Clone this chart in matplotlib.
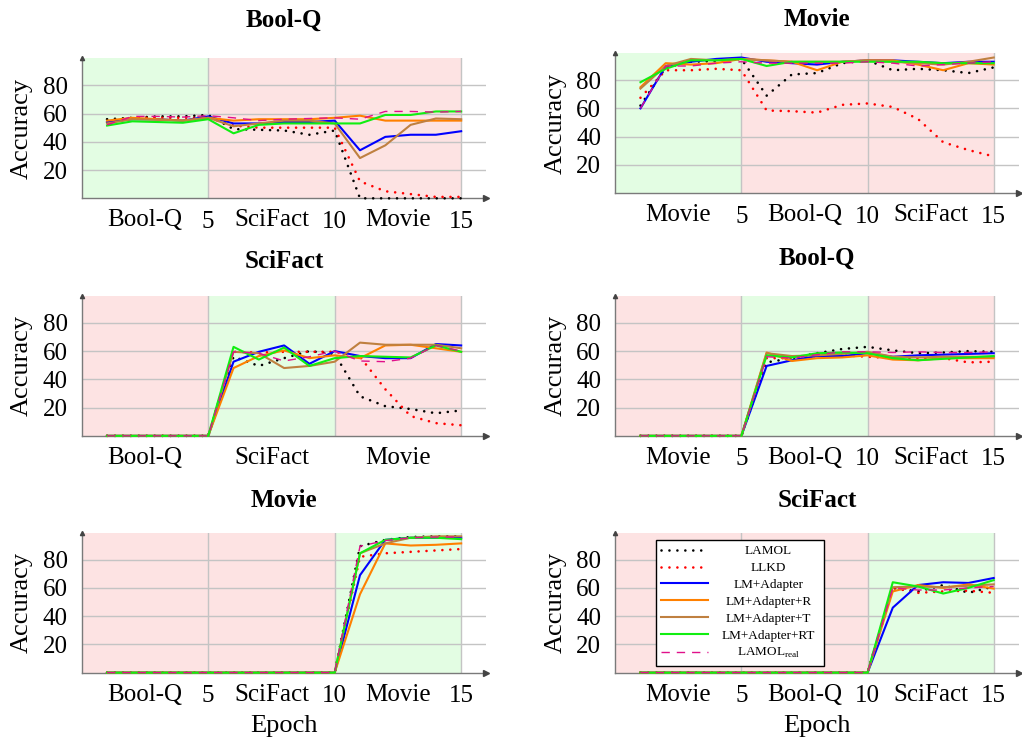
import numpy as np
import matplotlib
matplotlib.use("Agg")
import matplotlib.pyplot as plt
from matplotlib.offsetbox import VPacker

plt.rcParams['font.family'] = ['Liberation Serif', 'DejaVu Serif']
plt.rcParams['mathtext.fontset'] = 'custom'
plt.rcParams['mathtext.rm'] = 'Liberation Serif'

epochs = list(range(1, 16))
methods = ["LAMOL", "LLKD", "LM+Adapter", "LM+Adapter+R", "LM+Adapter+T",
           "LM+Adapter+RT", r"LAMOL$_{\mathrm{real}}$"]

# panel 1: Bool-Q (order Bool-Q, SciFact, Movie)
p1_lamol = [56, 57, 58, 58, 59, 49, 48.5, 48, 45, 48, 0, 0, 0, 0, 0]
p1_llkd = [54, 57, 57, 57, 57, 51.5, 50, 50, 50, 50, 12, 5, 3, 1, 1]
p1_adapter = [54, 56, 56, 55, 58, 53, 53, 54, 54, 55, 34, 43.5, 45, 45, 47.5]
p1_r = [55, 57, 56, 55, 57, 55, 56, 56, 56, 57, 58.5, 55, 55, 55, 55]
p1_t = [53, 56, 55.5, 55, 57, 51, 53, 55, 55, 53, 28.5, 37.5, 52, 56.5, 56]
p1_rt = [51.5, 54.5, 54, 53.5, 56, 46, 52, 53, 53, 53, 53, 59, 59, 61.5, 61.5]
p1_real = [52, 58, 58, 57.5, 58.5, 57, 55, 56, 56.5, 57, 56, 61.5, 61.5, 61, 61.5]

# panel 2: Movie (order Movie, Bool-Q, SciFact)
p2_lamol = [62, 89, 93, 93.5, 95, 69, 84, 85, 92, 94, 87, 88, 87, 85, 89]
p2_llkd = [67.5, 87, 87, 88, 87, 58.5, 58, 57, 62.5, 63.5, 61, 52.5, 36, 30.5, 26]
p2_adapter = [60, 90, 93, 95, 96, 93, 92, 91, 93, 94, 94, 93, 92, 93, 93]
p2_r = [75, 92, 91, 92, 95, 94, 93, 87, 93, 94, 94, 91, 87, 92, 91]
p2_t = [74, 90, 95, 94, 95, 94, 93, 93, 93, 94, 93, 92, 91, 93, 96]
p2_rt = [78.5, 88, 94, 94, 95, 90, 93, 93, 93, 93, 93, 93, 92, 92, 92]
p2_real = [60, 90, 90, 92, 93, 92, 92, 92, 92, 93, 92, 90, 91, 92, 93]

# panel 3: SciFact (order Bool-Q, SciFact, Movie)
p3_lamol = [0, 0, 0, 0, 0, 56, 49.5, 55, 60, 58, 28, 21, 19, 16, 18]
p3_llkd = [0, 0, 0, 0, 0, 59.5, 59, 59.5, 59.5, 59.5, 56, 33, 14, 9, 7.5]
p3_adapter = [0, 0, 0, 0, 0, 52.5, 59.5, 64, 51, 60, 56.5, 55, 55, 65, 64]
p3_r = [0, 0, 0, 0, 0, 48, 56.5, 60.5, 55, 57, 55, 64, 64.5, 62, 59.5]
p3_t = [0, 0, 0, 0, 0, 59.5, 58.5, 48, 49.5, 52.5, 66, 64.5, 64.5, 64.5, 62]
p3_rt = [0, 0, 0, 0, 0, 63, 54, 62.5, 49.5, 55, 56.5, 56, 55.5, 64, 59.5]
p3_real = [0, 0, 0, 0, 0, 59.5, 58.5, 53, 56, 60, 53, 52.5, 55, 64, 60]

# panel 4: Bool-Q (order Movie, Bool-Q, SciFact)
p4_lamol = [0, 0, 0, 0, 0, 52, 55, 58.5, 61.5, 63, 60.5, 58.5, 59, 60, 59.5]
p4_llkd = [0, 0, 0, 0, 0, 55, 55, 56.5, 57, 56, 55, 54.5, 55, 52, 52.5]
p4_adapter = [0, 0, 0, 0, 0, 49.5, 53.5, 56.5, 56.5, 58.5, 56, 57, 57.5, 58, 58.5]
p4_r = [0, 0, 0, 0, 0, 59, 53, 55, 55.5, 57, 54, 53.5, 55, 55, 55]
p4_t = [0, 0, 0, 0, 0, 58.5, 56.5, 57, 58, 59.5, 56, 55.5, 56, 56, 56]
p4_rt = [0, 0, 0, 0, 0, 57, 55.5, 58.5, 59, 58.5, 55, 53.5, 54.5, 55.5, 56.5]
p4_real = [0, 0, 0, 0, 0, 56, 55, 57.5, 59.5, 59.5, 59, 59.5, 59, 59, 59.5]

# panel 5: Movie (order Bool-Q, SciFact, Movie)
p5_lamol = [0, 0, 0, 0, 0, 0, 0, 0, 0, 0, 89.5, 94, 96, 96.5, 96.5]
p5_llkd = [0, 0, 0, 0, 0, 0, 0, 0, 0, 0, 82, 84.5, 85.5, 86.5, 87.5]
p5_adapter = [0, 0, 0, 0, 0, 0, 0, 0, 0, 0, 69, 94, 95.5, 95.5, 95.5]
p5_r = [0, 0, 0, 0, 0, 0, 0, 0, 0, 0, 55.5, 91.5, 90, 90.5, 91.5]
p5_t = [0, 0, 0, 0, 0, 0, 0, 0, 0, 0, 84.5, 91.5, 95.5, 96.5, 96.5]
p5_rt = [0, 0, 0, 0, 0, 0, 0, 0, 0, 0, 84.5, 94, 95.5, 95.5, 94.5]
p5_real = [0, 0, 0, 0, 0, 0, 0, 0, 0, 0, 89.5, 93.5, 95.5, 96, 96]

# panel 6: SciFact (order Movie, Bool-Q, SciFact)
p6_lamol = [0, 0, 0, 0, 0, 0, 0, 0, 0, 0, 60, 57.5, 62, 56.5, 61]
p6_llkd = [0, 0, 0, 0, 0, 0, 0, 0, 0, 0, 60, 56.5, 57.5, 58, 56.5]
p6_adapter = [0, 0, 0, 0, 0, 0, 0, 0, 0, 0, 46, 62, 64, 63.5, 67]
p6_r = [0, 0, 0, 0, 0, 0, 0, 0, 0, 0, 57.5, 62, 60, 62.5, 59.5]
p6_t = [0, 0, 0, 0, 0, 0, 0, 0, 0, 0, 60.5, 61, 60.5, 61.5, 62.5]
p6_rt = [0, 0, 0, 0, 0, 0, 0, 0, 0, 0, 64, 61, 56, 60, 65.5]
p6_real = [0, 0, 0, 0, 0, 0, 0, 0, 0, 0, 60, 58.5, 58.5, 60, 61]

titles = ["Bool-Q", "Movie", "SciFact", "Bool-Q", "Movie", "SciFact"]
orders = [["Bool-Q", "SciFact", "Movie"], ["Movie", "Bool-Q", "SciFact"],
          ["Bool-Q", "SciFact", "Movie"], ["Movie", "Bool-Q", "SciFact"],
          ["Bool-Q", "SciFact", "Movie"], ["Movie", "Bool-Q", "SciFact"]]
# which of the three phases trains the panel's task (green background)
current = [0, 0, 1, 1, 2, 2]
panels = [
    [p1_lamol, p1_llkd, p1_adapter, p1_r, p1_t, p1_rt, p1_real],
    [p2_lamol, p2_llkd, p2_adapter, p2_r, p2_t, p2_rt, p2_real],
    [p3_lamol, p3_llkd, p3_adapter, p3_r, p3_t, p3_rt, p3_real],
    [p4_lamol, p4_llkd, p4_adapter, p4_r, p4_t, p4_rt, p4_real],
    [p5_lamol, p5_llkd, p5_adapter, p5_r, p5_t, p5_rt, p5_real],
    [p6_lamol, p6_llkd, p6_adapter, p6_r, p6_t, p6_rt, p6_real],
]

styles = [
    dict(color="black", lw=1.9, ls=(0, (0.01, 3.0)), dash_capstyle="round"),
    dict(color="red", lw=1.9, ls=(0, (0.01, 3.0)), dash_capstyle="round"),
    dict(color="#0000ff", lw=1.5),
    dict(color="#ff8000", lw=1.5),
    dict(color="#bf8040", lw=1.5),
    dict(color="#11ee11", lw=1.5),
    dict(color="#e0108a", lw=1.0, ls=(0, (6, 5))),
]

green_bg = "#e3fde3"
red_bg = "#fde3e3"

# axes boxes in figure fraction [left, bottom, width, height]
boxes = [
    [0.080, 0.732, 0.396, 0.189],
    [0.602, 0.739, 0.395, 0.189],
    [0.080, 0.411, 0.396, 0.189],
    [0.602, 0.411, 0.395, 0.189],
    [0.080, 0.091, 0.396, 0.189],
    [0.602, 0.091, 0.395, 0.189],
]
title_y = [0.973, 0.974, 0.646, 0.651, 0.324, 0.324]

fig = plt.figure(figsize=(10.22, 7.40), dpi=100)
leg = None

for i in range(6):
    ax = fig.add_axes(boxes[i])
    for k in range(3):
        bg = green_bg if k == current[i] else red_bg
        ax.axvspan(5 * k, 5 * (k + 1), color=bg, lw=0, zorder=0)

    for s, ys in enumerate(panels[i]):
        ax.plot(epochs, ys, label=methods[s], clip_on=False, zorder=3, **styles[s])

    ax.set_xlim(0, 16)
    ax.set_ylim(0, 99)
    ax.set_axisbelow(True)
    ax.set_yticks([20, 40, 60, 80])
    ax.set_xticks([5, 10, 15])
    if i == 2:
        ax.set_xticklabels(["", "", ""])
    ax.set_xticks([2.5, 7.5, 12.5], minor=True)
    ax.set_xticklabels(orders[i], minor=True)
    ax.tick_params(axis="both", which="both", length=0, labelsize=18, pad=8)
    ax.tick_params(axis="x", which="major", pad=9)
    ax.tick_params(axis="y", pad=10)
    ax.grid(True, which="major", color="#c4c4c4", lw=1.0)
    for side in ["top", "right"]:
        ax.spines[side].set_visible(False)
    for side in ["left", "bottom"]:
        ax.spines[side].set_color("#7a7a7a")
        ax.spines[side].set_linewidth(1.0)
    ax.plot(1, 0, ">", transform=ax.transAxes, clip_on=False, color="#444444", ms=4, zorder=5)
    ax.plot(0, 1, "^", transform=ax.transAxes, clip_on=False, color="#444444", ms=3, zorder=5)

    box = boxes[i]
    fig.text(box[0] + box[2] / 2, title_y[i], titles[i], fontsize=18,
             fontweight="bold", ha="center", va="center")
    ax.set_ylabel("Accuracy", fontsize=19, labelpad=7)
    if i >= 4:
        ax.set_xlabel("Epoch", fontsize=19, labelpad=6)
    if i == 5:
        leg = ax.legend(loc="upper left", bbox_to_anchor=(0.10, 0.95), borderaxespad=0,
                        fontsize=9.5, handlelength=3.6, labelspacing=0.35, fancybox=False,
                        edgecolor="black", framealpha=1)
        leg.get_frame().set_linewidth(1.0)

# centre the legend texts in their column, like pgfplots does
try:
    fig.canvas.draw()
    renderer = fig.canvas.get_renderer()
    items = [it for col in leg._legend_handle_box.get_children() for it in col.get_children()]
    width = max(it.get_children()[1].get_bbox(renderer).width for it in items) + 6
    for it in items:
        txt = it.get_children()[1]
        wrap = VPacker(pad=0, sep=0, width=width, align="center", children=[txt])
        wrap.set_figure(fig)
        it._children[1] = wrap
except Exception:
    pass

plt.savefig("out.png", dpi=100)
